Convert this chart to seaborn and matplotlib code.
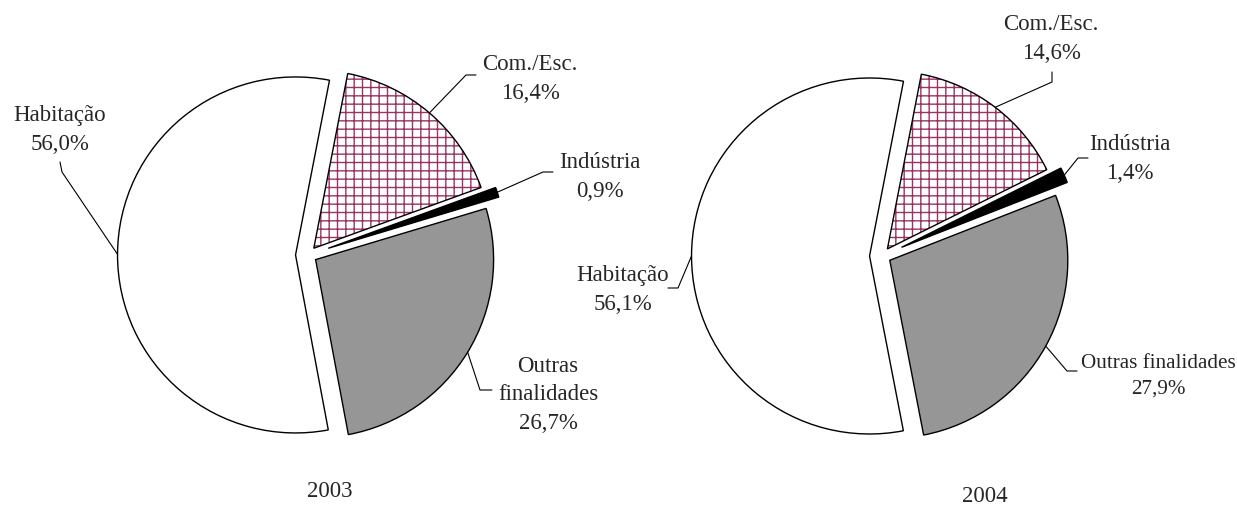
import numpy as np
import matplotlib
matplotlib.use("Agg")
import matplotlib.pyplot as plt
from matplotlib.patches import Wedge
import seaborn as sns

# ------------------------------
# Data
# ------------------------------
categories = ["Com./Esc.", "Indústria", "Outras finalidades", "Habitação"]
shares_2003 = [16.4, 0.9, 26.7, 56.0]
shares_2004 = [14.6, 1.4, 27.9, 56.1]
years = ["2003", "2004"]

# ------------------------------
# Style
# ------------------------------
sns.set_style("white")
plt.rcParams['font.family'] = ['Liberation Serif', 'DejaVu Serif']
plt.rcParams['hatch.linewidth'] = 1.0

W, H = 1237, 506
fig = plt.figure(figsize=(W / 100, H / 100), dpi=100)
ax = fig.add_axes([0, 0, 1, 1])

colors = ["white", "black", "#969696", "white"]
hatches = ["++", None, None, None]
explode = [0.05, 0.12, 0.05, 0.07]
R = 178
FS = 16.5


def fmt(v):
    return f"{v:.1f}".replace(".", ",") + "%"


def draw_pie(values, cx, cy, labels):
    # pie() takes explode in data units, so scale by the radius
    wedges, _ = ax.pie(values, colors=colors, explode=[e * R for e in explode],
                       startangle=79, counterclock=False, center=(cx, H - cy),
                       radius=R, wedgeprops=dict(edgecolor="black", linewidth=1.0))
    for w, h in zip(wedges, hatches):
        if h:
            hw = Wedge(w.center, w.r, w.theta1, w.theta2, facecolor="white",
                       edgecolor="#993366", linewidth=0, hatch=h, zorder=w.get_zorder() + 0.1)
            ax.add_patch(hw)
            w.set_zorder(w.get_zorder() + 0.2)
            w.set_facecolor("none")
    # labels with leader lines
    for w, (text, tx, ty, path, fs) in zip(wedges, labels):
        mid = np.deg2rad((w.theta1 + w.theta2) / 2)
        ax_x = w.center[0] + w.r * np.cos(mid)
        ax_y = w.center[1] + w.r * np.sin(mid)
        xs = [p[0] for p in path] + [ax_x]
        ys = [H - p[1] for p in path] + [ax_y]
        ax.plot(xs, ys, color="black", linewidth=0.8, zorder=5)
        ax.text(tx, H - ty, text, ha="center", va="center", fontsize=fs,
                linespacing=1.45, zorder=6)


labels_2003 = [
    (f"{categories[0]}\n{fmt(shares_2003[0])}", 530, 79, [(476, 76), (466, 76)], FS),
    (f"{categories[1]}\n{fmt(shares_2003[1])}", 600, 177, [(553, 173), (543, 173)], FS),
    ("Outras\nfinalidades\n" + fmt(shares_2003[2]), 548, 395, [(492, 391), (480, 391)], FS),
    (f"{categories[3]}\n{fmt(shares_2003[3])}", 60, 130, [(60, 163), (62, 173)], FS),
]
labels_2004 = [
    (f"{categories[0]}\n{fmt(shares_2004[0])}", 1051, 39, [(1052, 73), (1052, 83)], FS),
    (f"{categories[1]}\n{fmt(shares_2004[1])}", 1130, 159, [(1088, 159), (1078, 159)], FS),
    (f"{categories[2]}\n{fmt(shares_2004[2])}", 1158, 376, [(1077, 372), (1067, 372)], 15.2),
    (f"{categories[3]}\n{fmt(shares_2004[3])}", 623, 290, [(668, 289), (678, 289)], FS),
]

draw_pie(shares_2003, 308, 256, labels_2003)
draw_pie(shares_2004, 882, 257, labels_2004)

ax.text(330, H - 492, years[0], ha="center", va="center", fontsize=FS)
ax.text(985, H - 497, years[1], ha="center", va="center", fontsize=FS)

ax.set_xlim(0, W)
ax.set_ylim(0, H)
ax.set_aspect("equal")
ax.set_axis_off()

plt.savefig("out.png", dpi=100)
plt.close()
